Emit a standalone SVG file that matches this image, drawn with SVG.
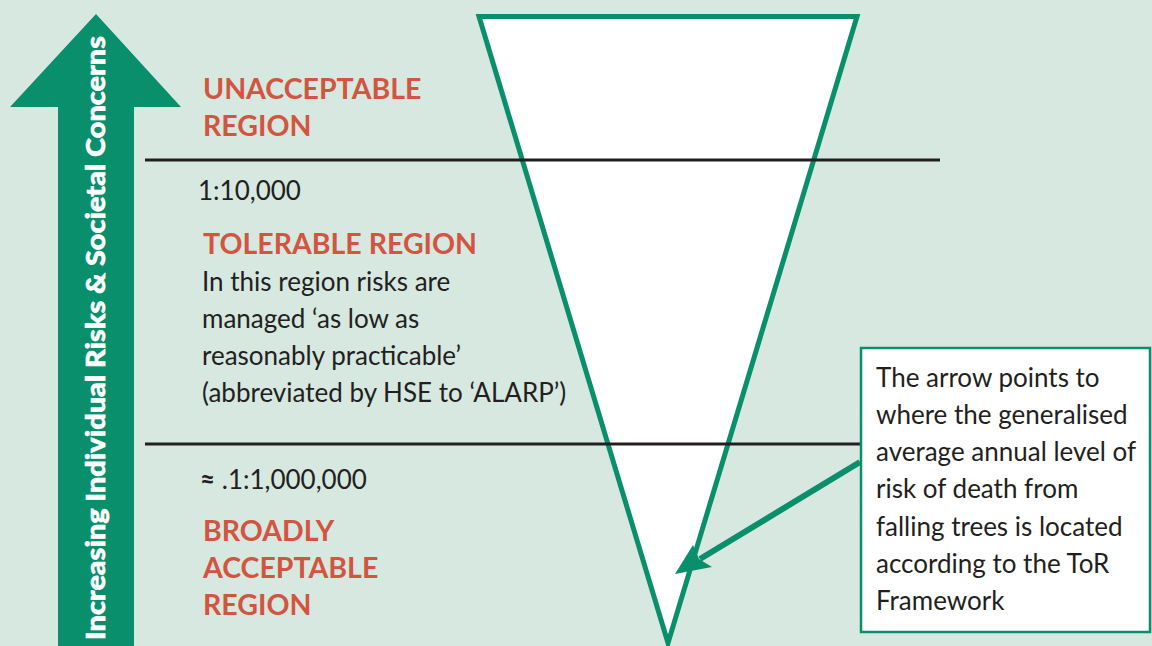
<svg xmlns="http://www.w3.org/2000/svg" width="1152" height="646" viewBox="0 0 1152 646">
<style>
.bg{fill:#d7e8e1}
.green{fill:#0a8f6c}
.tri{fill:#fff;stroke:#0a8f6c;stroke-width:5;stroke-linejoin:miter}
.rule{stroke:#231f20;stroke-width:3}
.box{fill:#fff;stroke:#0a8f6c;stroke-width:2.5}
.head{font-family:Lato,"Liberation Sans",sans-serif;font-weight:bold;font-size:28.5px;fill:#d2553f}
.body{font-family:Lato,"Liberation Sans",sans-serif;font-size:26px;fill:#231f20}
.vert{font-family:Lato,"Liberation Sans",sans-serif;font-weight:900;font-size:27px;fill:#fff;stroke:#fff;stroke-width:0.6}
</style>
<rect class="bg" x="0" y="0" width="1152" height="646"/>
<g id="risk-arrow">
<polygon class="green" points="96,14 181,107 134,107 134,646 58,646 58,107 10,107"/>
<text class="vert" transform="translate(105,338) rotate(-90)" text-anchor="middle" textLength="604" lengthAdjust="spacingAndGlyphs">Increasing Individual Risks &amp; Societal Concerns</text>
</g>
<g id="triangle">
<polygon class="tri" points="479,16.5 857,16.5 668,643"/>
</g>
<g id="rules">
<line class="rule" x1="145" y1="160" x2="940" y2="160"/>
<line class="rule" x1="145" y1="444" x2="860" y2="444"/>
</g>
<g id="unacceptable">
<text class="head" x="203" y="99">UNACCEPTABLE</text>
<text class="head" x="203" y="136">REGION</text>
</g>
<g id="tolerable">
<text class="body" x="198" y="200">1:10,000</text>
<text class="head" x="203" y="254">TOLERABLE REGION</text>
<text class="body" x="202" y="291">In this region risks are</text>
<text class="body" x="202" y="328">managed ‘as low as</text>
<text class="body" x="202" y="365">reasonably practicable’</text>
<text class="body" x="202" y="402">(abbreviated by HSE to ‘ALARP’)</text>
</g>
<g id="broadly">
<text class="body" x="200" y="489"><tspan font-weight="bold">≈</tspan> .1:1,000,000</text>
<text class="head" x="203" y="541">BROADLY</text>
<text class="head" x="203" y="578">ACCEPTABLE</text>
<text class="head" x="203" y="615">REGION</text>
</g>
<g id="connectors">
<line x1="860" y1="462" x2="700" y2="559" stroke="#0a8f6c" stroke-width="6"/>
<polygon class="green" points="675,574 693,545 699,559 712,567"/>
</g>
<g id="note">
<rect class="box" x="861" y="348" width="289" height="284"/>
<text class="body" x="876" y="387">The arrow points to</text>
<text class="body" x="876" y="424">where the generalised</text>
<text class="body" x="876" y="461">average annual level of</text>
<text class="body" x="876" y="498">risk of death from</text>
<text class="body" x="876" y="536">falling trees is located</text>
<text class="body" x="876" y="573">according to the ToR</text>
<text class="body" x="876" y="610">Framework</text>
</g>
</svg>
